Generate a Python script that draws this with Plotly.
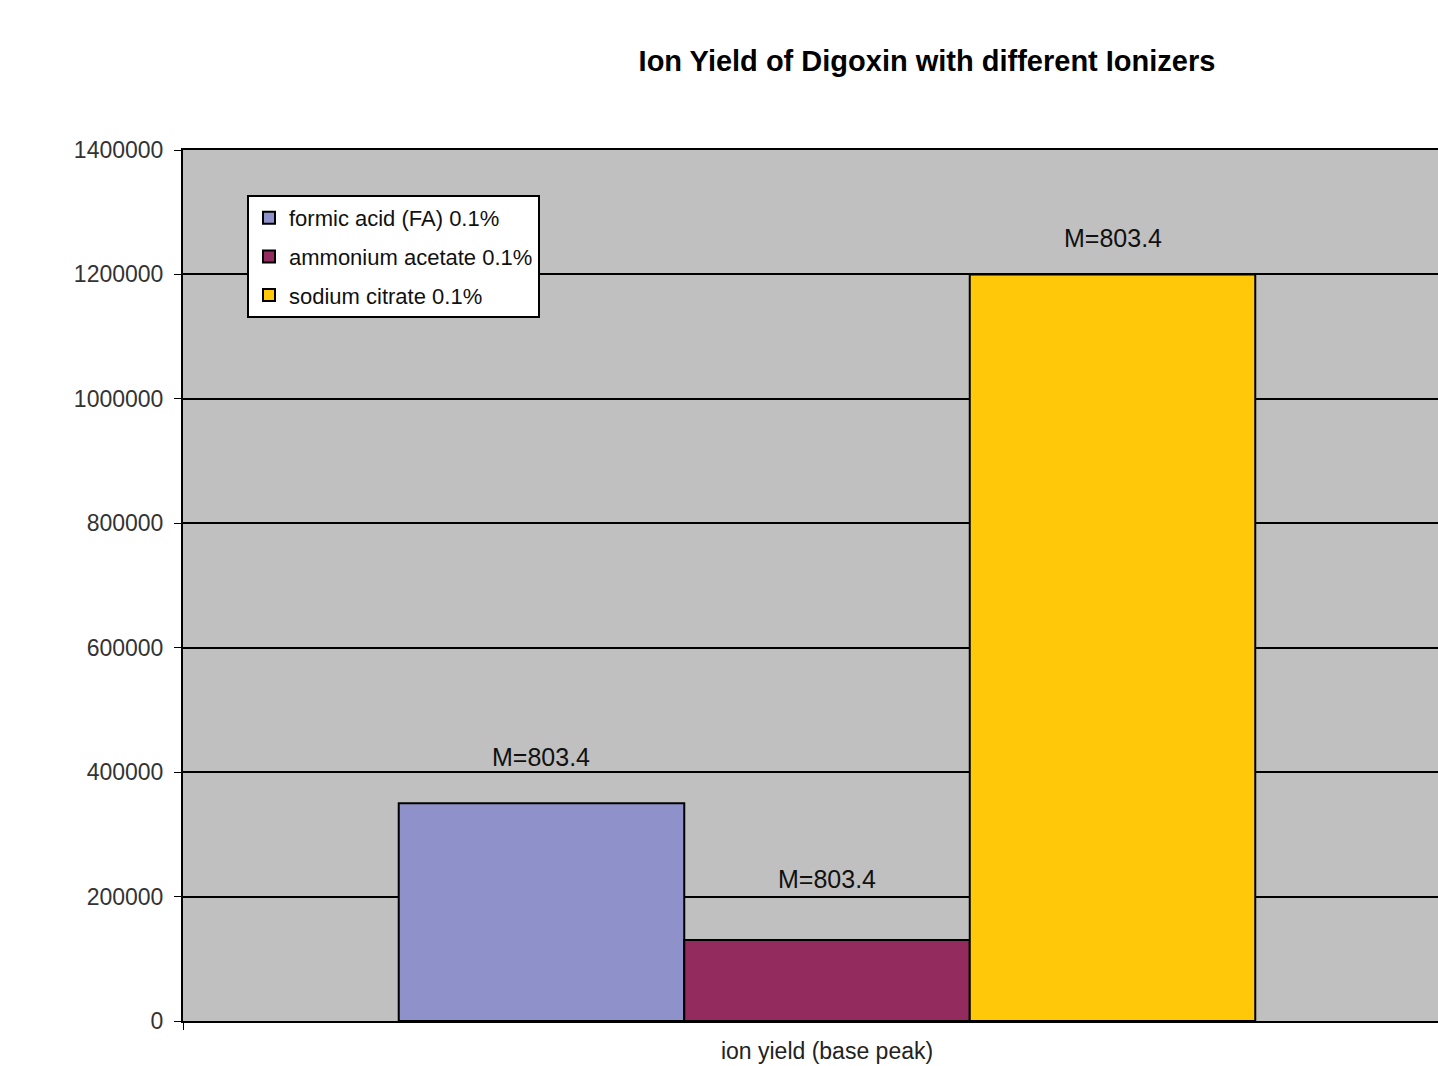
import plotly.graph_objects as go

# Ion yield (base peak) of digoxin for each ionizer
category = ["ion yield (base peak)"]
ionizers = ["formic acid (FA) 0.1%", "ammonium acetate 0.1%", "sodium citrate 0.1%"]
ion_yield = [350000, 130000, 1200000]
peak_labels = ["M=803.4", "M=803.4", "M=803.4"]
colors = ["#8F92CA", "#932B5E", "#FFC90A"]
label_lift = [46, 61, 36]  # pixel lift of each peak label above its bar

y_ticks = [0, 200000, 400000, 600000, 800000, 1000000, 1200000, 1400000]

fig = go.Figure()
for i, (name, val, col) in enumerate(zip(ionizers, ion_yield, colors)):
    fig.add_trace(go.Bar(
        x=category, y=[val], name=name, legendgroup=f"g{i}",
        marker=dict(color=col, line=dict(color="black", width=2)),
    ))

bargap = 0.335
bar_w = (1 - bargap) / len(ionizers)
for i, (val, txt) in enumerate(zip(ion_yield, peak_labels)):
    fig.add_annotation(
        x=(i - 1) * bar_w, y=val, xref="x", yref="y",
        text=txt, showarrow=False, yshift=label_lift[i],
        yanchor="middle",
        font=dict(family="Liberation Sans, Arial", size=25, color="#111"),
    )

fig.update_layout(
    width=1438, height=1066,
    margin=dict(l=183, r=0, t=150, b=45),
    paper_bgcolor="white", plot_bgcolor="#C0C0C0",
    barmode="group", bargap=bargap, bargroupgap=0,
    title=dict(
        text="<b>Ion Yield of Digoxin with different Ionizers</b>",
        x=927 / 1438, xanchor="center", xref="container",
        y=1 - 61 / 1066, yanchor="middle", yref="container",
        font=dict(family="Liberation Sans, Arial", size=29, color="black"),
    ),
    font=dict(family="Liberation Sans, Arial", size=23, color="#222"),
    showlegend=True,
    legend=dict(
        x=(247 - 183) / 1255, y=(1021 - 195) / 871, xanchor="left", yanchor="top",
        bgcolor="white", bordercolor="black", borderwidth=2,
        font=dict(family="Liberation Sans, Arial", size=22, color="#111"),
        tracegroupgap=7, itemwidth=30, traceorder="grouped",
    ),
)

fig.update_xaxes(
    type="category", range=[-0.5, -0.5 + 1255 / 1288],
    showline=True, linecolor="black", linewidth=2, mirror=True,
    ticks="outside", tickson="boundaries", ticklen=7, tickcolor="black", tickwidth=1,
    ticklabelstandoff=8, automargin=False,
    tickfont=dict(family="Liberation Sans, Arial", size=23, color="#222"),
    showgrid=False, zeroline=False,
)
fig.update_yaxes(
    range=[0, 1400000], tickvals=y_ticks, ticktext=[str(v) for v in y_ticks],
    showline=True, linecolor="black", linewidth=2, automargin=False,
    ticks="outside", ticklen=7, tickcolor="black", tickwidth=1,
    ticklabelstandoff=6,
    tickfont=dict(family="Liberation Sans, Arial", size=23, color="#333"),
    showgrid=True, gridcolor="black", gridwidth=2, zeroline=False,
)

fig.write_html("out.html")
